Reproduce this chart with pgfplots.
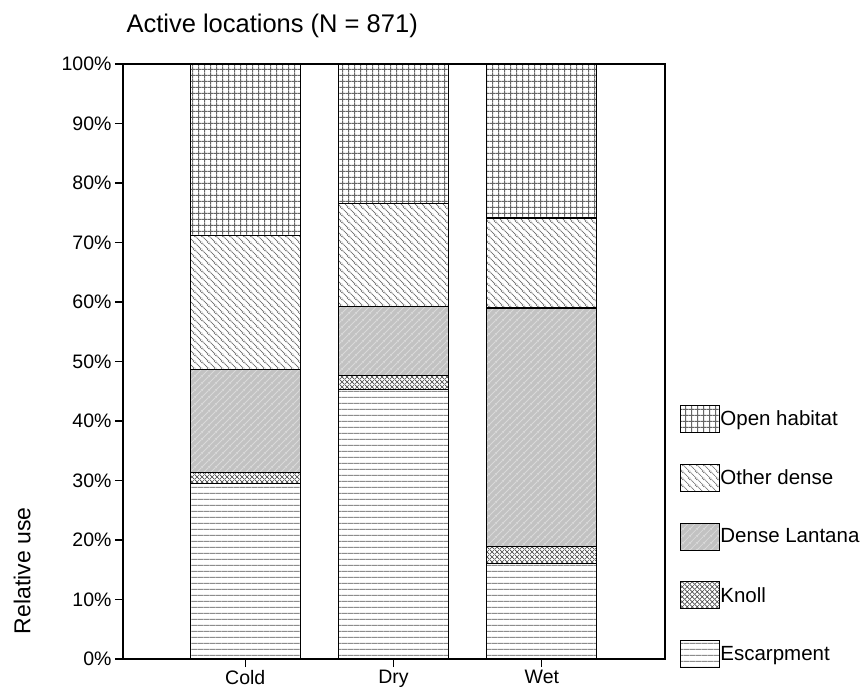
\documentclass[border=0pt]{standalone}
\usepackage{fontspec}
\setmainfont{Liberation Sans}
\usepackage{pgfplots}
\pgfplotsset{compat=1.18}
\usetikzlibrary{patterns,patterns.meta}

\tikzdeclarepattern{name=mygrid, type=uncolored,
  bounding box={(0,0) and (5.6pt,5.6pt)}, tile size={(5.6pt,5.6pt)},
  code={\draw[line width=1pt] (-0.5pt,2.8pt)--(6.1pt,2.8pt) (2.8pt,-0.5pt)--(2.8pt,6.1pt);}}
\tikzdeclarepattern{name=myhlines, type=uncolored,
  bounding box={(0,0) and (6pt,6pt)}, tile size={(6pt,6pt)},
  code={\draw[line width=1.2pt] (-0.5pt,3pt)--(6.5pt,3pt);}}
\tikzdeclarepattern{name=mydown, type=uncolored,
  bounding box={(0,0) and (6.5pt,6.5pt)}, tile size={(6.5pt,6.5pt)},
  code={\draw[line width=0.9pt, dash pattern=on 1.2pt off 0.6pt] (-0.5pt,7pt)--(7pt,-0.5pt) (-1pt,1pt)--(1pt,-1pt) (5.5pt,7.5pt)--(7.5pt,5.5pt);}}
\tikzdeclarepattern{name=myup, type=uncolored,
  bounding box={(0,0) and (6.5pt,6.5pt)}, tile size={(6.5pt,6.5pt)},
  code={\draw[line width=0.8pt] (-0.5pt,-0.5pt)--(7pt,7pt) (-1pt,5.5pt)--(1pt,7.5pt) (5.5pt,-1pt)--(7.5pt,1pt);}}
\tikzdeclarepattern{name=mycross, type=uncolored,
  bounding box={(0,0) and (5pt,5pt)}, tile size={(5pt,5pt)},
  code={\draw[line width=0.8pt] (-0.5pt,-0.5pt)--(5.5pt,5.5pt) (-0.5pt,5.5pt)--(5.5pt,-0.5pt);}}

\begin{document}
\begin{tikzpicture}
\begin{axis}[
  scale only axis,
  width=542pt, height=595pt,
  ybar stacked,
  bar width=110pt,
  xmin=-0.824, xmax=2.83,
  ymin=0, ymax=100,
  xtick={0,1,2},
  xticklabels={Cold,Dry,Wet},
  ytick={0,10,...,100},
  yticklabel={\pgfmathprintnumber{\tick}\%},
  /pgf/number format/assume math mode=true,
  tick label style={font=\fontsize{19.5}{23}\selectfont},
  xtick pos=bottom, ytick pos=left,
  tick align=outside,
  major tick length=8pt,
  every tick/.style={black, line width=1.2pt},
  axis line style={line width=1.2pt},
  title={Active locations (N = 871)},
  title style={at={(0,1)}, anchor=base west, yshift=25pt, font=\fontsize{25.5}{30}\selectfont},
  ylabel={Relative use},
  ylabel style={at={(axis description cs:-0.186,0.148)}, anchor=center, font=\fontsize{23}{27}\selectfont},
  reverse legend,
  legend style={draw=none, fill=none, legend cell align=left,
    at={(rel axis cs:1.0277,0.427)}, anchor=north west,
    row sep=30.5pt, inner sep=0pt,
    nodes={inner sep=0pt, font=\fontsize{20.5}{24}\selectfont}},
  legend image code/.code={\draw[#1] (0pt,-13.5pt) rectangle (39pt,13.5pt);},
  /tikz/every even column/.append style={column sep=3pt},
  every axis plot/.append style={draw=black, line width=1.2pt},
]
% Escarpment
\addplot[fill=white, postaction={pattern=myhlines, pattern color=black!45}] coordinates {(0,29.5) (1,45.3) (2,16.0)};
% Knoll
\addplot[fill=white, postaction={pattern=mycross, pattern color=black!70}] coordinates {(0,1.9) (1,2.4) (2,2.9)};
% Dense Lantana
\addplot[fill=black!24, postaction={pattern=myup, pattern color=white!85!black}] coordinates {(0,17.3) (1,11.6) (2,40.1)};
% Other dense
\addplot[fill=white, postaction={pattern=mydown, pattern color=black!55}] coordinates {(0,22.5) (1,17.2) (2,15.1)};
% Open habitat
\addplot[fill=white, postaction={pattern=mygrid, pattern color=black!60}] coordinates {(0,28.8) (1,23.5) (2,25.9)};
\legend{Escarpment,Knoll,Dense Lantana,Other dense,Open habitat}
\end{axis}
\path (current axis.south west) ++(-123pt,-34pt) rectangle ++(866pt,693pt);
\end{tikzpicture}
\end{document}
